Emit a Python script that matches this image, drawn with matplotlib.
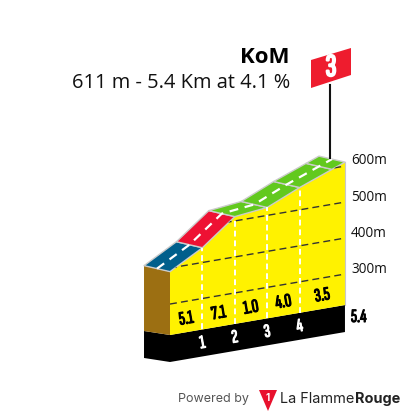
import matplotlib
matplotlib.use("Agg")
import matplotlib.pyplot as plt
import matplotlib.patheffects as pe
from matplotlib.patches import Polygon
from matplotlib.transforms import Affine2D

# profile data
km = [0, 1, 2, 3, 4, 5, 5.4]
elevation = [390, 441, 512, 522, 562, 597, 611]
segment_colors = ["#005f8c", "#ee1133", "#62c91e", "#62c91e", "#62c91e", "#62c91e"]
gradient_km = [0.5, 1.5, 2.5, 3.5, 4.7]
gradient_labels = ["5.1", "7.1", "1.0", "4.0", "3.5"]
km_ticks = [1, 2, 3, 4]
grid_levels = [300, 400, 500, 600]
base_elevation = 214
floor_elevation = 139
total_km = 5.4

SX, SKEW, SY = 32.4, 5.55, 0.36
X0, Y0 = 170.0, 335.0 + base_elevation * SY
NARROW = ["Sofia Sans Extra Condensed", "Roboto Condensed", "Liberation Sans"]


def heavy(color, width=0.8):
    # the condensed font has no real bold here, so thicken it with a stroke
    return [pe.withStroke(linewidth=width, foreground=color)]


fig = plt.figure(figsize=(4.05, 4.16), dpi=100)
ax = fig.add_axes([0, 0, 1, 1])
ax.set_xlim(0, 405)
ax.set_ylim(416, 0)
ax.axis("off")

# oblique projection (km, metres) -> picture pixels
tr = Affine2D.from_values(SX, -SKEW, 0, -SY, X0, Y0) + ax.transData
tr_mid = Affine2D().translate(-0.401, 14.5) + tr

# black band and its end
ax.add_patch(Polygon([(0, base_elevation), (total_km, base_elevation),
                      (total_km, floor_elevation), (0, floor_elevation)],
                     closed=True, fc="black", ec="none", transform=tr))
ax.fill([0, 0, -0.802, -0.802],
        [floor_elevation, base_elevation, base_elevation + 23.5, floor_elevation + 23.5],
        color="black", lw=0, transform=tr)

# brown end wall
ax.fill([0, 0, -0.802, -0.802],
        [base_elevation, elevation[0], elevation[0] + 29, base_elevation + 23.5],
        color="#9c6f12", lw=0, transform=tr)

# yellow face
face = Polygon(list(zip(km, elevation)) + [(total_km, base_elevation), (0, base_elevation)],
               closed=True, fc="#fff200", ec="none", transform=tr)
ax.add_patch(face)
ax.plot([total_km, total_km], [base_elevation, elevation[-1]], color="#c8c8c8", lw=0.8, transform=tr)

# height grid
for g in grid_levels:
    line, = ax.plot([0, total_km], [g, g], color="#333333", lw=1.0,
                    dashes=(5, 3), transform=tr)
    line.set_clip_path(face)

# km dividers
for k in km_ticks:
    top = elevation[km.index(k)]
    ax.plot([k, k], [base_elevation, top], color="white", lw=1.4, dashes=(3, 2), transform=tr)

# road surface
for i, c in enumerate(segment_colors):
    xs = [km[i], km[i + 1], km[i + 1] - 0.802, km[i] - 0.802]
    ys = [elevation[i], elevation[i + 1], elevation[i + 1] + 29, elevation[i] + 29]
    ax.fill(xs, ys, fc=c, ec="#cccccc", lw=1.0, joinstyle="round", transform=tr)
ax.plot(km, elevation, color="white", lw=1.6, dashes=(4, 3), transform=tr_mid)

# gradients and km numbers
for k, g in zip(gradient_km, gradient_labels):
    ax.text(k, base_elevation + 37.5, g, transform=tr, rotation=10, rotation_mode="anchor",
            ha="center", va="center", fontsize=13.5, family=NARROW, color="black",
            path_effects=heavy("black"))
for k in km_ticks:
    ax.text(k, base_elevation - 37.5, str(k), transform=tr, rotation=10, rotation_mode="anchor",
            ha="center", va="center", fontsize=13.5, family=NARROW, color="white",
            path_effects=heavy("white"))

# axis labels on the right
for g in [600, 500, 400, 300]:
    ax.text(351, 161 + (600 - g) * 0.363, "%dm" % g, ha="left", va="center",
            fontsize=9.8, family="Open Sans", color="#111111")
ax.text(351, 317, "5.4", ha="left", va="center", fontsize=13.5, family=NARROW, color="black",
        path_effects=heavy("black"))

# climb title
ax.text(290, 63, "KoM", ha="right", va="baseline", fontsize=16, fontweight="bold",
        family="Open Sans", color="black")
ax.text(290, 88, "611 m - 5.4 Km at 4.1 %", ha="right", va="baseline", fontsize=14.45,
        family="Open Sans", color="#111111")

# category flag
ax.plot([330, 330], [85, 158], color="#111111", lw=1.5)
ax.add_patch(Polygon([(311, 60), (351, 48), (351, 75), (311, 88)], closed=True,
                     fc="#ee1c2e", ec="none"))
ax.text(331, 68, "3", ha="center", va="center", color="white",
        fontsize=23, family=NARROW, path_effects=heavy("white", 1.5))

# footer
ax.text(177.5, 399, "Powered by", ha="left", va="center", fontsize=9.0,
        family="Inter", color="#555555")
ax.add_patch(Polygon([(259, 390), (277, 390), (268, 411)], closed=True, fc="#e8112d", ec="none"))
ax.text(268, 398, "1", ha="center", va="center", fontsize=7, fontweight="bold",
        family="Inter", color="white")
ax.text(280, 399, "La Flamme", ha="left", va="center", fontsize=10.4, family="Inter",
        color="#222222")
ax.text(400, 399, "Rouge", ha="right", va="center", fontsize=10.4, fontweight="bold",
        family="Inter", color="#222222")

fig.savefig("out.png", dpi=100)
